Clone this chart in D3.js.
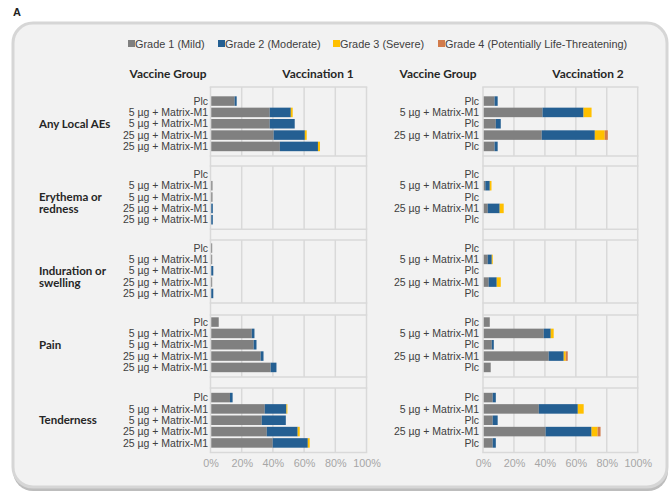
<!DOCTYPE html>
<html><head><meta charset="utf-8">
<script src="https://cdn.jsdelivr.net/npm/d3@7"></script>
<style>body{margin:0;background:#fff}svg{display:block}</style>
</head><body>
<script>
// ---------- data ----------
const outcomes = [["Any Local AEs"], ["Erythema or", "redness"], ["Induration or", "swelling"], ["Pain"], ["Tenderness"]];
const grades = ["Grade 1 (Mild)", "Grade 2 (Moderate)", "Grade 3 (Severe)", "Grade 4 (Potentially Life-Threatening)"];
const gradeColors = ["#808080", "#245f92", "#ffc000", "#d27b4b"];
const ticks = [0, 20, 40, 60, 80, 100];
const groupsV1 = ["Plc", "5 µg + Matrix-M1", "5 µg + Matrix-M1", "25 µg + Matrix-M1", "25 µg + Matrix-M1"];
const groupsV2 = ["Plc", "5 µg + Matrix-M1", "Plc", "25 µg + Matrix-M1", "Plc"];

// Vaccination 1: [outcome][group] percent
const v1Grade1 = [[15, 37.5, 37.5, 40, 44], [0, 0.8, 0.8, 0, 0], [0.6, 0.6, 0, 0.6, 0], [4.8, 26, 27.2, 31.7, 38.1], [12, 34.3, 32.4, 35.6, 39.4]];
const v1Grade2 = [[1.3, 13.5, 16, 20, 24.4], [0, 0, 0, 1.0, 1.0], [0, 0, 1.3, 0, 1.3], [0, 1.7, 1.8, 1.8, 3.7], [1.7, 13.9, 15.4, 19.8, 22.5]];
const v1Grade3 = [[0, 1.2, 0, 1.2, 1.3], [0, 0, 0, 0, 0], [0, 0, 0, 0, 0], [0, 0, 0, 0, 0], [0, 0.6, 0, 1.3, 1.2]];
const v1Grade4 = [[0, 0, 0, 0, 0], [0, 0, 0, 0, 0], [0, 0, 0, 0, 0], [0, 0, 0, 0, 0], [0, 0, 0, 0, 0]];
// Vaccination 2
const v2Grade1 = [[7, 38, 7.8, 37.5, 7], [0, 1, 0, 2.6, 0], [0, 2.6, 0, 3.2, 0], [3.9, 38.8, 5.2, 42, 4.5], [5.8, 35.6, 5.8, 40, 5.8]];
const v2Grade2 = [[2, 26.5, 3.2, 34.3, 2], [0, 2.9, 0, 7.7, 0], [0, 2.6, 0, 5.2, 0], [0, 4.5, 1.3, 9.7, 0], [2, 25.2, 3.2, 29.7, 2]];
const v2Grade3 = [[0, 5.2, 0, 6.4, 0], [0, 1.1, 0, 2.6, 0], [0, 0.6, 0, 2.6, 0], [0, 1.9, 0, 1.3, 0], [0, 3.8, 0, 3.9, 0]];
const v2Grade4 = [[0, 0, 0, 2, 0], [0, 0, 0, 0, 0], [0, 0, 0, 0, 0], [0, 0, 0, 1.3, 0], [0, 0, 0, 1.9, 0]];

// ---------- layout ----------
const W = 671, H = 493;
const svg = d3.select("body").append("svg").attr("width", W).attr("height", H);
const sansFont = "'Liberation Sans', Arial, sans-serif";
const boldFont = "Lato, 'Open Sans', sans-serif";
const gridColor = "#d9d9d9";

// frame
svg.append("rect").attr("x", 13).attr("y", 25).attr("width", 655).attr("height", 466).attr("rx", 20)
  .attr("fill", "#bdbdbd");
svg.append("rect").attr("x", 13).attr("y", 23).attr("width", 654).attr("height", 464).attr("rx", 20)
  .attr("fill", "#f2f2f2").attr("stroke", "#d6d6d6").attr("stroke-width", 3);

svg.append("text").attr("x", 13).attr("y", 16).text("A")
  .attr("font-family", sansFont).attr("font-weight", "bold").attr("font-size", 11).attr("fill", "#222");

// legend
const legendX = [128, 218, 333, 438];
grades.forEach((g, i) => {
  svg.append("rect").attr("x", legendX[i]).attr("y", 40).attr("width", 7).attr("height", 7).attr("fill", gradeColors[i]);
  svg.append("text").attr("x", legendX[i] + 7).attr("y", 47.8).text(g)
    .attr("font-family", sansFont).attr("font-size", 10.9).attr("fill", "#404040");
});

// headers
[["Vaccine Group", 168], ["Vaccination 1", 318], ["Vaccine Group", 438], ["Vaccination 2", 588]].forEach(([t, x]) => {
  svg.append("text").attr("x", x).attr("y", 78).attr("text-anchor", "middle").text(t)
    .attr("font-family", boldFont).attr("font-weight", "bold").attr("font-size", 11.9).attr("fill", "#262626");
});

const secTop = [87, 166, 240, 315, 388];
const secBot = [156, 229.3, 303, 377, 452.5];

const panels = [
  {x0: 210.5, x1: 366.5, labelX: 208, groups: groupsV1, data: [v1Grade1, v1Grade2, v1Grade3, v1Grade4]},
  {x0: 483, x1: 637.7, labelX: 479, groups: groupsV2, data: [v2Grade1, v2Grade2, v2Grade3, v2Grade4]}
];

panels.forEach(p => {
  const x = d3.scaleLinear().domain([0, 100]).range([p.x0, p.x1]);
  const g = svg.append("g");
  for (let s = 0; s < 4; s++) {
    [0, 100].forEach(v => g.append("line").attr("x1", x(v)).attr("x2", x(v))
      .attr("y1", secBot[s]).attr("y2", secTop[s + 1]).attr("stroke", gridColor).attr("stroke-width", 1.5));
  }
  outcomes.forEach((o, s) => {
    const top = secTop[s], bot = secBot[s];
    ticks.forEach(v => g.append("line").attr("x1", x(v)).attr("x2", x(v)).attr("y1", top).attr("y2", bot)
      .attr("stroke", gridColor).attr("stroke-width", 1.5));
    [top, bot].forEach(yy => g.append("line").attr("x1", x(0) - 0.75).attr("x2", x(100) + 0.75)
      .attr("y1", yy).attr("y2", yy).attr("stroke", gridColor).attr("stroke-width", 1.5));
    const y = d3.scaleBand().domain(d3.range(5)).range([bot - 61.5, bot - 3]).padding(0.16);
    p.groups.forEach((grp, i) => {
      let acc = 0;
      p.data.forEach((gd, k) => {
        const v = gd[s][i];
        if (v > 0) {
          g.append("rect").attr("x", x(acc) + 0.75).attr("y", y(i)).attr("width", x(acc + v) - x(acc))
            .attr("height", y.bandwidth()).attr("fill", gradeColors[k]);
        }
        acc += v;
      });
      g.append("text").attr("x", p.labelX).attr("y", y(i) + y.bandwidth() / 2).attr("dy", "0.35em")
        .attr("text-anchor", "end").text(grp)
        .attr("font-family", sansFont).attr("font-size", 10.5).attr("fill", "#404040");
    });
    if (p === panels[0]) {
      const cy = y(2) + y.bandwidth() / 2;
      o.forEach((line, li) => {
        svg.append("text").attr("x", 39).attr("y", cy + li * 12).attr("dy", "0.35em").text(line)
          .attr("font-family", boldFont).attr("font-weight", "bold").attr("font-size", 11.5).attr("fill", "#262626");
      });
    }
  });
  const axis = d3.axisBottom(x).tickValues(ticks).tickFormat(d => d + "%").tickSize(0).tickPadding(0);
  const ax = svg.append("g").attr("transform", `translate(0,${secBot[4] + 11})`).call(axis);
  ax.select(".domain").remove();
  ax.selectAll("text").attr("font-family", sansFont).attr("font-size", 10.8).attr("fill", "#a6a6a6").attr("dy", "0.35em");
});
</script>
</body></html>
